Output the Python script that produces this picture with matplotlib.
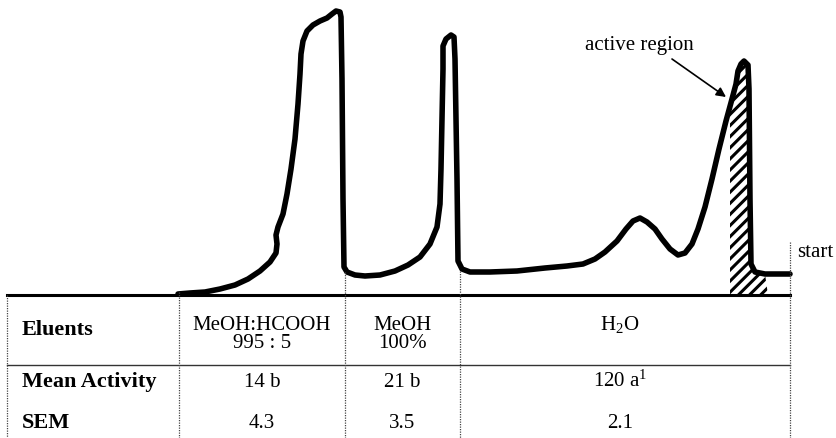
import matplotlib
matplotlib.use("Agg")
import matplotlib.pyplot as plt
import numpy as np

plt.rcParams['font.family'] = ['Liberation Serif', 'DejaVu Serif']
plt.rcParams['mathtext.fontset'] = 'custom'
plt.rcParams['mathtext.rm'] = 'Liberation Serif'
plt.rcParams['mathtext.it'] = 'Liberation Serif:italic'
plt.rcParams['hatch.linewidth'] = 2.2

# chromatogram trace (x = elution position, y = detector, drawn downwards)
trace_x = [178, 190, 205, 220, 235, 248, 260, 270, 276, 277, 276, 278, 283, 287, 291, 295, 298, 300,
           301, 303, 307, 313, 320, 327, 332, 336, 340, 341, 342, 343, 344, 347, 355, 365, 380, 395,
           408, 420, 430, 437, 440, 441, 442, 443, 443, 446, 451, 454, 455, 457, 458, 462, 470, 490,
           517, 545, 567, 583, 595, 605, 617, 626, 633, 640, 647, 655, 662, 670, 678, 685, 692, 698,
           705, 712, 719, 726, 732, 736, 738, 741, 744, 748, 749, 750, 751, 755, 765, 790]
trace_y = [295, 294, 293, 290, 286, 280, 272, 263, 254, 245, 236, 228, 215, 195, 170, 140, 105, 75,
           55, 42, 32, 26, 22, 19, 15, 12, 13, 18, 80, 200, 268, 273, 276, 277, 276, 272,
           266, 258, 245, 228, 205, 170, 120, 70, 47, 40, 36, 38, 60, 180, 262, 270, 273, 273,
           272, 269, 267, 265, 260, 253, 242, 230, 222, 219, 223, 230, 240, 250, 256, 254, 245, 230,
           208, 180, 150, 122, 100, 85, 72, 65, 62, 66, 90, 200, 265, 273, 275, 275]

active_start, active_end = 730, 768
baseline_y = 296

# table
col_edges = [7, 179, 345, 460, 790]
eluents = ['MeOH:HCOOH\n995 : 5', 'MeOH\n100%', 'H$_2$O']
mean_activity = ['14 b', '21 b', '120 a$^1$']
sem = ['4.3', '3.5', '2.1']
# where each column boundary meets the trace above the baseline
col_tops = [296, 293, 273, 272, 243]

fig = plt.figure(figsize=(8.37, 4.39), dpi=100)
ax = fig.add_axes([0, 0, 1, 1])
ax.set_xlim(0, 837)
ax.set_ylim(439, 0)
ax.axis('off')

tx = np.array(trace_x, float)
ty = np.array(trace_y, float)

# hatched active region
tail = np.arange(len(tx)) > 70
sel = tail & (tx >= active_start) & (tx <= active_end)
top_y = np.interp(active_start, tx[tail], ty[tail])
poly_x = [active_start, active_start] + list(tx[sel]) + [active_end]
poly_y = [baseline_y, top_y] + list(ty[sel]) + [baseline_y]
ax.fill(poly_x, poly_y, facecolor='none', edgecolor='black', hatch='///', lw=0)

ax.plot(tx, ty, color='black', lw=4.0, solid_joinstyle='round', solid_capstyle='round')

# baseline and table rules
ax.plot([col_edges[0], col_edges[-1]], [baseline_y, baseline_y], color='black', lw=2.2)
ax.plot([col_edges[0], col_edges[-1]], [366, 366], color='#333333', lw=1.0)
for x, top in zip(col_edges, col_tops):
    ax.plot([x, x], [top, 439], color='#444444', lw=0.9, linestyle=(0, (1, 1)))

ax.text(22, 335, 'Eluents', fontsize=16, fontweight='bold', va='baseline')
ax.text(22, 387, 'Mean Activity', fontsize=16, fontweight='bold', va='baseline')
ax.text(22, 428, 'SEM', fontsize=16, fontweight='bold', va='baseline')

for i in range(3):
    cx = (col_edges[i + 1] + col_edges[i + 2]) / 2
    if i == 2:
        cx -= 5
    lines = eluents[i].split('\n')
    ax.text(cx, 330, lines[0], fontsize=15, ha='center', va='baseline')
    if len(lines) > 1:
        ax.text(cx, 348, lines[1], fontsize=15, ha='center', va='baseline')
    ax.text(cx, 387, mean_activity[i], fontsize=15, ha='center', va='baseline')
    ax.text(cx, 428, sem[i], fontsize=15, ha='center', va='baseline')

ax.text(797, 257, 'start', fontsize=15, va='baseline')
ax.text(585, 50, 'active region', fontsize=15, va='baseline')
ax.annotate('', xy=(726, 98), xytext=(672, 60),
            arrowprops=dict(arrowstyle='-|>', lw=1.2, color='black', mutation_scale=14,
                            shrinkA=0, shrinkB=0))

fig.savefig('out.png', dpi=100)
